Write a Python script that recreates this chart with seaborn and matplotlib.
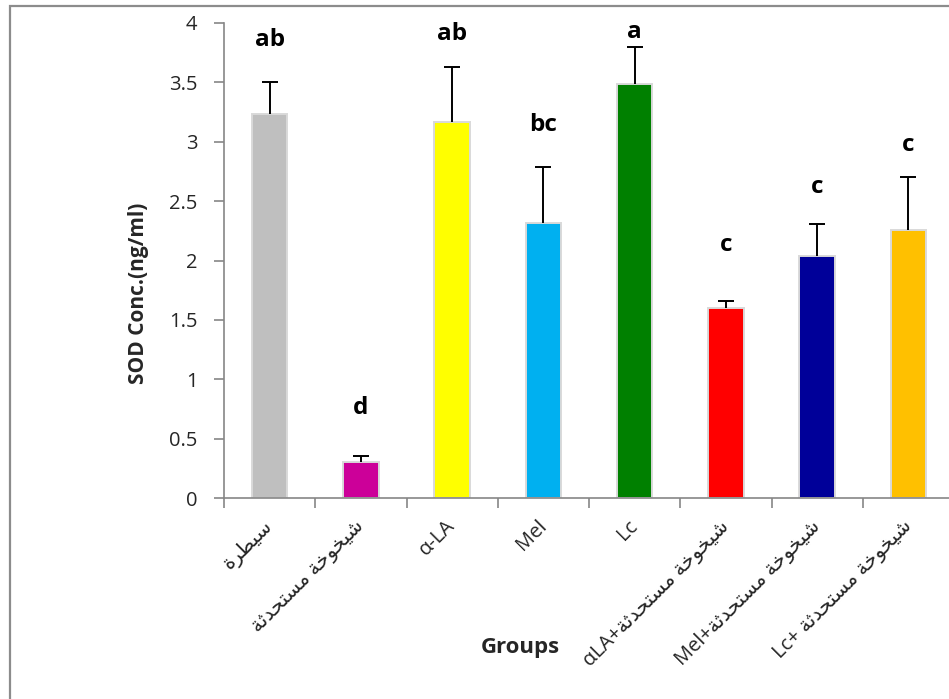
import matplotlib
matplotlib.use("Agg")
import matplotlib.pyplot as plt
from matplotlib.patches import Rectangle
import numpy as np
import pandas as pd
import seaborn as sns

# ---- data -------------------------------------------------------------
groups = [
    "سيطرة",
    "شيخوخة مستحدثة",
    "α-LA",
    "Mel",
    "Lc",
    "شيخوخة مستحدثة+αLA",
    "شيخوخة مستحدثة+Mel",
    "شيخوخة مستحدثة +Lc",
]
sod_mean = [3.23, 0.30, 3.17, 2.32, 3.49, 1.60, 2.04, 2.26]
sod_err = [0.27, 0.05, 0.46, 0.47, 0.31, 0.06, 0.27, 0.44]
letters = ["ab", "d", "ab", "bc", "a", "c", "c", "c"]
letter_y = [3.86, 0.76, 3.91, 3.14, 3.92, 2.13, 2.62, 2.97]
bar_colors = ["#bfbfbf", "#cc0099", "#ffff00", "#00b0f0",
              "#008000", "#ff0000", "#000099", "#ffc000"]
y_ticks = [0, 0.5, 1, 1.5, 2, 2.5, 3, 3.5, 4]
y_tick_labels = ["0", "0.5", "1", "1.5", "2", "2.5", "3", "3.5", "4"]

# ---- minimal Arabic shaping + bidi for tick labels ---------------------
# isolated, final, initial, medial presentation forms
_FORMS = {
    "ا": (0xFE8D, 0xFE8E, None, None),
    "ب": (0xFE8F, 0xFE90, 0xFE91, 0xFE92),
    "ة": (0xFE93, 0xFE94, None, None),
    "ت": (0xFE95, 0xFE96, 0xFE97, 0xFE98),
    "ث": (0xFE99, 0xFE9A, 0xFE9B, 0xFE9C),
    "ج": (0xFE9D, 0xFE9E, 0xFE9F, 0xFEA0),
    "ح": (0xFEA1, 0xFEA2, 0xFEA3, 0xFEA4),
    "خ": (0xFEA5, 0xFEA6, 0xFEA7, 0xFEA8),
    "د": (0xFEA9, 0xFEAA, None, None),
    "ذ": (0xFEAB, 0xFEAC, None, None),
    "ر": (0xFEAD, 0xFEAE, None, None),
    "ز": (0xFEAF, 0xFEB0, None, None),
    "س": (0xFEB1, 0xFEB2, 0xFEB3, 0xFEB4),
    "ش": (0xFEB5, 0xFEB6, 0xFEB7, 0xFEB8),
    "ص": (0xFEB9, 0xFEBA, 0xFEBB, 0xFEBC),
    "ض": (0xFEBD, 0xFEBE, 0xFEBF, 0xFEC0),
    "ط": (0xFEC1, 0xFEC2, 0xFEC3, 0xFEC4),
    "ظ": (0xFEC5, 0xFEC6, 0xFEC7, 0xFEC8),
    "ع": (0xFEC9, 0xFECA, 0xFECB, 0xFECC),
    "غ": (0xFECD, 0xFECE, 0xFECF, 0xFED0),
    "ف": (0xFED1, 0xFED2, 0xFED3, 0xFED4),
    "ق": (0xFED5, 0xFED6, 0xFED7, 0xFED8),
    "ك": (0xFED9, 0xFEDA, 0xFEDB, 0xFEDC),
    "ل": (0xFEDD, 0xFEDE, 0xFEDF, 0xFEE0),
    "م": (0xFEE1, 0xFEE2, 0xFEE3, 0xFEE4),
    "ن": (0xFEE5, 0xFEE6, 0xFEE7, 0xFEE8),
    "ه": (0xFEE9, 0xFEEA, 0xFEEB, 0xFEEC),
    "و": (0xFEED, 0xFEEE, None, None),
    "ي": (0xFEF1, 0xFEF2, 0xFEF3, 0xFEF4),
}


def _is_arabic(ch):
    return ch in _FORMS


def _dual(ch):
    return ch in _FORMS and _FORMS[ch][2] is not None


def shape(text):
    out = []
    for i, ch in enumerate(text):
        if not _is_arabic(ch):
            out.append(ch)
            continue
        prev = text[i - 1] if i > 0 else ""
        nxt = text[i + 1] if i + 1 < len(text) else ""
        join_prev = _dual(prev)
        join_next = _dual(ch) and _is_arabic(nxt)
        iso, fin, ini, med = _FORMS[ch]
        if join_prev and join_next:
            cp = med
        elif join_prev:
            cp = fin
        elif join_next:
            cp = ini
        else:
            cp = iso
        out.append(chr(cp))
    return "".join(out)


def visual(text):
    if not any(_is_arabic(c) for c in text):
        return text
    shaped = shape(text)
    # direction of each character: R (Arabic), L (Latin/Greek), N (neutral)
    dirs = []
    for c in text:
        if _is_arabic(c):
            dirs.append("R")
        elif c.isalnum():
            dirs.append("L")
        else:
            dirs.append("N")
    n = len(dirs)
    for i in range(n):
        if dirs[i] != "N":
            continue
        left = next((dirs[j] for j in range(i - 1, -1, -1) if dirs[j] != "N"), "R")
        right = next((dirs[j] for j in range(i + 1, n) if dirs[j] != "N"), "R")
        dirs[i] = "L" if (left == "L" and right == "L") else "R"
    runs = []
    for s, d in zip(shaped, dirs):
        if runs and runs[-1][1] == d:
            runs[-1][0].append(s)
        else:
            runs.append([[s], d])
    parts = []
    for chars, d in reversed(runs):
        parts.append("".join(reversed(chars)) if d == "R" else "".join(chars))
    return "".join(parts)


# ---- figure -----------------------------------------------------------
sns.set_theme(style="white")
plt.rcParams["font.family"] = ["Open Sans", "DejaVu Sans"]

fig = plt.figure(figsize=(9.49, 6.99), dpi=100)
ax = fig.add_axes([224 / 949, 1 - 498 / 699, 730 / 949, 475 / 699])

df = pd.DataFrame({"group": groups, "sod": sod_mean})
sns.barplot(data=df, x="group", y="sod", hue="group", palette=bar_colors,
            order=groups, hue_order=groups, errorbar=None, legend=False,
            saturation=1, width=0.39, edgecolor="#d9d9d9", linewidth=1.4,
            ax=ax)

# upward-only error bars
xpos = np.arange(len(groups))
_, caps, _ = ax.errorbar(xpos, sod_mean,
                         yerr=[np.zeros(len(sod_err)), sod_err],
                         fmt="none", ecolor="black", elinewidth=1.4,
                         capsize=6, capthick=1.4, zorder=5)
for cap in caps:
    if np.allclose(cap.get_ydata(), sod_mean):
        cap.set_visible(False)

for x, t, y in zip(xpos, letters, letter_y):
    ax.text(x, y, t, ha="center", va="center", fontsize=17.5,
            fontweight="bold", color="black")

ax.set_xlim(-0.5, 7.5)
ax.set_ylim(0, 4)
ax.set_yticks(y_ticks)
ax.set_yticklabels(y_tick_labels, fontsize=14.5)

ax.set_xticks(xpos)
ax.set_xticklabels([visual(g) for g in groups], rotation=45, ha="right",
                   va="center", rotation_mode="anchor", fontsize=14.5)
ax.tick_params(axis="x", which="major", length=0, pad=18)
ax.set_xticks(np.arange(-0.5, 7.5, 1.0), minor=True)
ax.tick_params(axis="x", which="minor", length=7, width=1.2,
               color="#868686", direction="out")
ax.tick_params(axis="y", length=7, width=1.2, color="#868686",
               direction="out", pad=12)
ax.yaxis.set_ticks_position("left")
ax.xaxis.set_ticks_position("bottom")

for side in ("top", "right"):
    ax.spines[side].set_visible(False)
for side in ("left", "bottom"):
    ax.spines[side].set_color("#868686")
    ax.spines[side].set_linewidth(1.2)

ax.set_xlabel("")
ax.set_ylabel("SOD Conc.(ng/ml)", fontsize=15, fontweight="bold")
ax.yaxis.set_label_coords((149 - 224) / 730, (498 - 293) / 475)
fig.text(520 / 949, 1 - 647 / 699, "Groups", ha="center", va="center",
         fontsize=16, fontweight="bold")

# chart-area frame
fig.patches.append(Rectangle((9.5 / 949, -0.05), 1.2, 0.05 + 1 - 6 / 699,
                             transform=fig.transFigure, fill=False,
                             edgecolor="#8c8c8c", linewidth=1.6))

fig.savefig("out.png", dpi=100)
